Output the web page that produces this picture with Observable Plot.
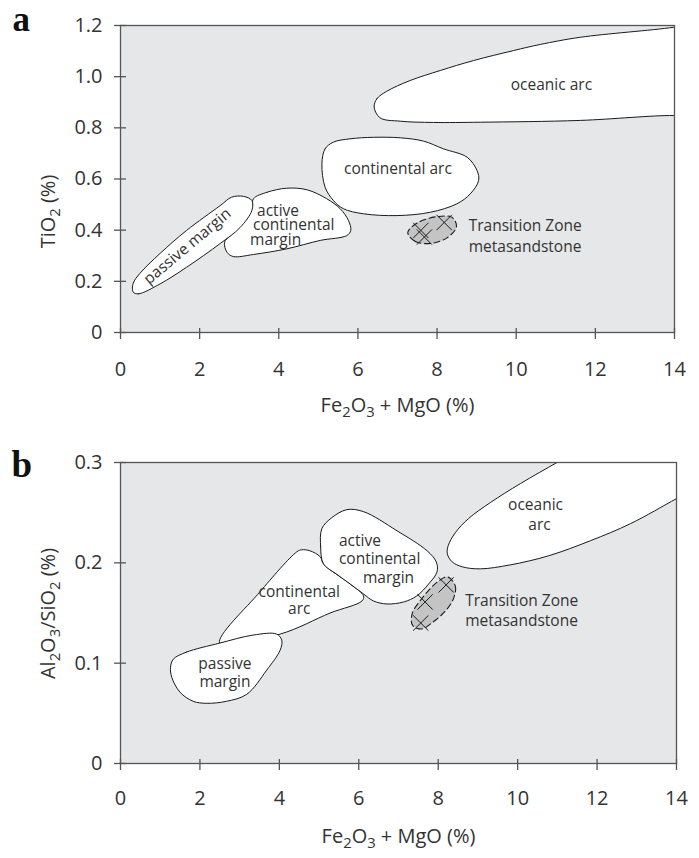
<!DOCTYPE html>
<html><head><meta charset="utf-8">
<script src="https://cdn.jsdelivr.net/npm/d3@7"></script>
<script src="https://cdn.jsdelivr.net/npm/@observablehq/plot@0.6"></script>
<style>
body{margin:0;background:#fff;}
#chart svg{display:block;}
</style></head><body><div id="chart"></div>
<script>
// ---------- shared axis data ----------
const xTicks = [0, 2, 4, 6, 8, 10, 12, 14];
const yTicksA = [0, 0.2, 0.4, 0.6, 0.8, 1.0, 1.2];
const yTicksB = [0, 0.1, 0.2, 0.3];
const xTitleParts = [["Fe", 0], ["2", 1], ["O", 0], ["3", 1], [" + MgO (%)", 0]];
const yTitleAParts = [["TiO", 0], ["2", 1], [" (%)", 0]];
const yTitleBParts = [["Al", 0], ["2", 1], ["O", 0], ["3", 1], ["/SiO", 0], ["2", 1], [" (%)", 0]];

// ---------- panel a: TiO2 vs Fe2O3+MgO ----------
const aOceanicArc = [[6.41,0.881],[6.48,0.914],[6.73,0.943],[7.32,0.985],[8.08,1.024],[8.92,1.063],[9.93,1.102],[10.61,1.126],[11.62,1.154],[13.98,1.193],[14.6,1.21],[14.6,0.84],[13.98,0.848],[11.62,0.829],[9.09,0.822],[7.91,0.821],[7.07,0.826],[6.56,0.839]];
const aActiveMargin = [[3.36,0.523],[3.70,0.548],[4.20,0.564],[4.71,0.558],[5.21,0.523],[5.55,0.484],[5.76,0.438],[5.82,0.399],[5.72,0.379],[5.05,0.360],[4.20,0.327],[3.36,0.305],[2.85,0.297],[2.69,0.314],[2.63,0.353],[2.77,0.379],[3.11,0.438],[3.32,0.484]];
const aContinentalArc = [[5.09,0.660],[5.17,0.718],[5.38,0.744],[5.80,0.757],[6.39,0.763],[7.07,0.761],[7.66,0.748],[8.16,0.718],[8.76,0.685],[9.01,0.633],[9.05,0.594],[8.84,0.542],[8.50,0.503],[7.83,0.470],[6.99,0.457],[6.14,0.464],[5.63,0.484],[5.38,0.516],[5.17,0.568]];
const aPassiveMargin = [[0.32,0.158],[0.45,0.151],[1.0,0.19],[1.67,0.255],[2.52,0.348],[3.02,0.41],[3.32,0.477],[3.32,0.516],[3.11,0.532],[2.81,0.529],[2.52,0.496],[1.67,0.399],[1.0,0.309],[0.49,0.231],[0.32,0.192]];
const aTransitionField = [[7.26,0.391],[7.45,0.356],[7.83,0.348],[8.26,0.371],[8.49,0.414],[8.38,0.450],[8.00,0.453],[7.52,0.430]];
const aSamples = [[7.59,0.399],[7.68,0.373],[8.18,0.430]];
// [text, x, y, anchor, rotate]
const aLabels = [
  ["oceanic arc", 10.89, 0.966, "middle", 0],
  ["continental arc", 7.01, 0.640, "middle", 0],
  ["passive margin", 1.69, 0.337, "middle", -40],
  ["active\ncontinental\nmargin", 3.35, 0.418, "start", 0],
  ["Transition Zone\nmetasandstone", 8.80, 0.381, "start", 0]
];

// ---------- panel b: Al2O3/SiO2 vs Fe2O3+MgO ----------
const bOceanicArc = [[11.51,0.312],[10.99,0.300],[10.07,0.279],[9.31,0.260],[8.76,0.244],[8.43,0.230],[8.25,0.217],[8.23,0.209],[8.35,0.201],[8.61,0.196],[9.06,0.194],[9.82,0.198],[10.78,0.207],[11.83,0.222],[12.84,0.239],[14.00,0.264],[14.61,0.277],[14.6,0.32],[12.0,0.32]];
const bContinentalArc = [[2.50,0.120],[3.51,0.171],[4.44,0.211],[4.56,0.213],[4.77,0.212],[5.03,0.206],[5.11,0.199],[5.78,0.179],[6.12,0.167],[6.08,0.162],[5.28,0.150],[4.02,0.129]];
const bActiveMargin = [[5.11,0.199],[5.04,0.216],[5.07,0.234],[5.32,0.245],[5.70,0.253],[6.12,0.251],[6.96,0.232],[7.72,0.212],[7.95,0.201],[7.97,0.191],[7.76,0.179],[7.46,0.167],[7.13,0.161],[6.71,0.159],[6.37,0.162],[6.12,0.169],[5.78,0.179],[5.43,0.189]];
const bPassiveMargin = [[1.33,0.104],[1.66,0.111],[2.50,0.120],[3.34,0.128],[3.93,0.129],[4.06,0.123],[4.02,0.113],[3.68,0.093],[3.18,0.069],[2.67,0.062],[2.17,0.060],[1.83,0.062],[1.50,0.071],[1.29,0.086],[1.26,0.096]];
const bTransitionField = [[8.23,0.186],[8.43,0.177],[8.38,0.164],[8.18,0.152],[7.87,0.141],[7.57,0.134],[7.35,0.138],[7.35,0.150],[7.60,0.165],[7.95,0.180]];
const bSamples = [[8.20,0.178],[7.67,0.161],[7.56,0.140]];
const bLabels = [
  ["oceanic\narc", 10.45, 0.249, "middle", 0],
  ["active\ncontinental\nmargin", 5.50, 0.2044, "start", 0],
  ["continental\narc", 4.50, 0.1625, "middle", 0],
  ["passive\nmargin", 2.63, 0.0912, "middle", 0],
  ["Transition Zone\nmetasandstone", 8.68, 0.1535, "start", 0]
];

// ---------- rendering ----------
const W = 699, H = 429;
const FONT = "'Open Sans', sans-serif";
const INK = "#1a1a1a", AXIS = "#555", TXT = "#333";
const fmtY = d => d === 0 ? "0" : d.toFixed(1);
const joinParts = p => p.map(d => d[0]).join("");

function subscriptify(svg, parts, shift) {
  const str = joinParts(parts);
  const el = [...svg.querySelectorAll("text")].find(t => t.textContent === str);
  if (!el) return;
  el.textContent = "";
  let down = false;
  for (const [s, sub] of parts) {
    const t = document.createElementNS("http://www.w3.org/2000/svg", "tspan");
    t.textContent = s;
    if (sub && !down) { t.setAttribute("dy", shift); down = true; }
    else if (!sub && down) { t.setAttribute("dy", -shift); down = false; }
    if (sub) t.setAttribute("font-size", "0.74em");
    el.appendChild(t);
  }
}

function makePanel(c) {
  const plotH = H - c.mt - c.mb, plotW = W - c.ml - c.mr;
  const rows = c.fields.flatMap(([name, pts]) => pts.map(([x, y]) => ({name, x, y})));
  const ell = c.ellipse.map(([x, y]) => ({x, y}));
  const pts = c.samples.map(([x, y]) => ({x, y}));
  const labelMarks = c.labels.map(([text, x, y, anchor, rotate], i) =>
    Plot.text([{text, x, y}], {x: "x", y: "y", text: "text", rotate, textAnchor: anchor, lineAnchor: "middle",
      lineHeight: c.leading[i], fontSize: 15.5, fill: TXT}));
  const svg = Plot.plot({
    width: W, height: H,
    marginLeft: c.ml, marginRight: c.mr, marginTop: c.mt, marginBottom: c.mb,
    style: {fontFamily: FONT, fontSize: "20px", color: TXT, background: "#fff", overflow: "visible"},
    x: {domain: [0, 14], label: null},
    y: {domain: c.yDomain, label: null},
    marks: [
      Plot.frame({fill: "#e6e7e8", stroke: "none"}),
      Plot.line(rows, {x: "x", y: "y", z: "name", curve: "catmull-rom-closed", fill: "white", stroke: INK, strokeWidth: 1, clip: true}),
      Plot.line(ell, {x: "x", y: "y", curve: "catmull-rom-closed", fill: "#c4c4c4", stroke: INK, strokeWidth: 1.1, strokeDasharray: "6,3.5"}),
      Plot.dot(pts, {x: "x", y: "y", symbol: "times", r: 7, stroke: INK, strokeWidth: 1}),
      ...labelMarks,
      Plot.frame({stroke: AXIS, strokeWidth: 1.3}),
      Plot.tickX(xTicks, {x: d => d, insetTop: plotH - 4, insetBottom: -7, stroke: AXIS, strokeWidth: 1.3}),
      Plot.tickY(c.yTicks, {y: d => d, insetRight: plotW - 6, insetLeft: -6, stroke: AXIS, strokeWidth: 1.3}),
      Plot.axisX({ticks: xTicks, tickSize: 0, tickPadding: c.xPad, tickFormat: d => String(d), fontSize: 20, label: null, color: TXT}),
      Plot.axisY({ticks: c.yTicks, tickSize: 0, tickPadding: 18, tickFormat: fmtY, fontSize: 20, label: null, color: TXT}),
      Plot.text([joinParts(xTitleParts)], {frameAnchor: "bottom", dy: c.xTitleDy, text: d => d, textAnchor: "middle", lineAnchor: "middle", fontSize: 20, fill: TXT, letterSpacing: "0.4px"}),
      Plot.text([joinParts(c.yTitleParts)], {frameAnchor: "left", dx: -72, dy: c.yTitleDy, rotate: -90, text: d => d, textAnchor: "middle", lineAnchor: "middle", fontSize: 20, fill: TXT, letterSpacing: "0.4px"}),
      Plot.text([c.letter], {frameAnchor: "top-left", dx: c.letterDx, dy: c.letterDy, text: d => d, textAnchor: "start", lineAnchor: "middle", fontFamily: "'Liberation Serif', serif", fontWeight: "bold", fontSize: c.letterSize, fill: "#111"})
    ]
  });
  subscriptify(svg, xTitleParts, 5.5);
  subscriptify(svg, c.yTitleParts, 5.5);
  // per-line horizontal nudges of multi-line labels (as in the original artwork)
  (c.lineShift || []).forEach(([labelIndex, lineIndex, px]) => {
    const str = c.labels[labelIndex][0].replace(/\n/g, "");
    const el = [...svg.querySelectorAll("text")].find(t => t.textContent === str && t.querySelectorAll("tspan").length > 1);
    if (el) el.querySelectorAll("tspan")[lineIndex].setAttribute("dx", px);
  });
  return svg;
}

const chart = document.getElementById("chart");
chart.appendChild(makePanel({
  fields: [["oceanic arc", aOceanicArc], ["active continental margin", aActiveMargin], ["continental arc", aContinentalArc], ["passive margin", aPassiveMargin]],
  ellipse: aTransitionField, samples: aSamples, labels: aLabels, leading: [1, 1, 1, 0.94, 1.35],
  lineShift: [[3, 0, 4], [3, 2, -3]],
  yDomain: [0, 1.2], yTicks: yTicksA, yTitleParts: yTitleAParts,
  ml: 120, mr: 25, mt: 25, mb: 97, xPad: 29, xTitleDy: 73, yTitleDy: 32.5,
  letter: "a", letterDx: -108, letterDy: -5.5, letterSize: 35
}));
chart.appendChild(makePanel({
  fields: [["oceanic arc", bOceanicArc], ["continental arc", bContinentalArc], ["active continental margin", bActiveMargin], ["passive margin", bPassiveMargin]],
  ellipse: bTransitionField, samples: bSamples, labels: bLabels, leading: [1.29, 1.18, 1.07, 1.19, 1.29],
  lineShift: [[1, 2, 24], [0, 1, 4]],
  yDomain: [0, 0.3], yTicks: yTicksB, yTitleParts: yTitleBParts,
  ml: 120, mr: 23, mt: 33, mb: 95, xPad: 27, xTitleDy: 73, yTitleDy: 0.5,
  letter: "b", letterDx: -109, letterDy: 3, letterSize: 37
}));
</script></body></html>
